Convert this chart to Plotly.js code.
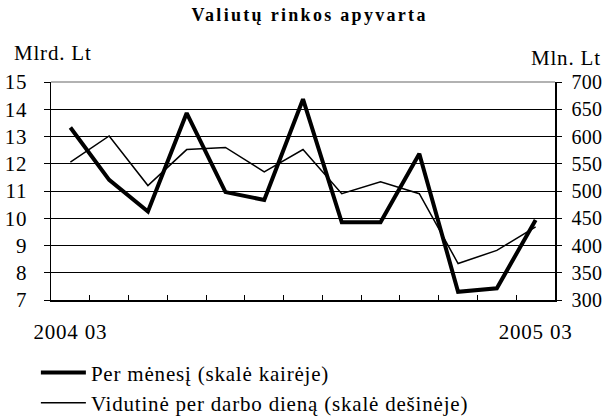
<!DOCTYPE html>
<html><head><meta charset="utf-8">
<script src="https://cdn.plot.ly/plotly-3.0.1.min.js"></script>
<style>body{margin:0;background:#fff}
svg text{letter-spacing:0.8px}
.y2tick text{letter-spacing:0.3px !important}
.gtitle{letter-spacing:2.3px !important}</style>
</head><body><div id="chart" style="width:607px;height:416px"></div>
<script>
const months = ["2004 03","2004 04","2004 05","2004 06","2004 07","2004 08","2004 09","2004 10","2004 11","2004 12","2005 01","2005 02","2005 03"];
const tickLabels = ["2004 03","","","","","","","","","","","","2005 03"];
const perMonth = [13.33, 11.41, 10.25, 13.86, 10.96, 10.67, 14.37, 9.85, 9.85, 12.37, 7.30, 7.43, 9.94];
const perDay = [553, 601, 510, 576, 580, 535, 576, 495, 517, 495, 367, 391, 434];
const seriesNames = ["Per mėnesį (skalė kairėje)", "Vidutinė per darbo dieną (skalė dešinėje)"];

const F = "'Liberation Serif', 'Times New Roman', serif";
const data = [
  {x: months, y: perMonth, name: seriesNames[0], type: "scatter", mode: "lines", line: {color: "#000", width: 4}, yaxis: "y"},
  {x: months, y: perDay, name: seriesNames[1], type: "scatter", mode: "lines", line: {color: "#000", width: 1.5}, yaxis: "y2"}
];
const layout = {
  width: 607, height: 416,
  margin: {l: 51, r: 52, t: 82, b: 116, autoexpand: false},
  paper_bgcolor: "#fff", plot_bgcolor: "#fff",
  font: {family: F, color: "#000", size: 21},
  title: {text: "<b>Valiutų rinkos apyvarta</b>", font: {family: F, size: 18, color: "#000"}, x: 0.51, xanchor: "center", y: 0.964, yanchor: "middle"},
  showlegend: true,
  legend: {x: -0.03, xanchor: "left", y: -0.24, yanchor: "top", font: {family: F, size: 21}, bgcolor: "rgba(0,0,0,0)", itemwidth: 45},
  xaxis: {type: "category", range: [-0.5, 12.5], tickmode: "array", tickvals: months, ticktext: tickLabels, tickson: "boundaries",
    ticks: "inside", ticklen: 5, tickcolor: "#000", showline: true, linecolor: "#000", linewidth: 1.5,
    showgrid: false, zeroline: false, tickfont: {size: 21}, ticklabelstandoff: 12, tickangle: 0},
  yaxis: {range: [7, 15], dtick: 1, tick0: 7, ticks: "outside", ticklen: 6, tickcolor: "#000",
    showline: true, linecolor: "#000", linewidth: 1.5, showgrid: true, gridcolor: "#000", gridwidth: 1,
    zeroline: false, tickfont: {size: 21}, ticklabelstandoff: 12},
  yaxis2: {range: [300, 700], dtick: 50, tick0: 300, overlaying: "y", side: "right", ticks: "outside", ticklen: 5, tickcolor: "#000",
    showline: true, linecolor: "#000", linewidth: 1.5, showgrid: false, zeroline: false, tickfont: {size: 20}, ticklabelstandoff: 6},
  shapes: [{type: "line", xref: "paper", yref: "paper", x0: 0, x1: 1, y0: 1, y1: 1, line: {color: "#999", width: 1.5}}],
  annotations: [
    {text: "Mlrd. Lt", xref: "paper", yref: "paper", x: -0.077, y: 1.135, xanchor: "left", yanchor: "middle", showarrow: false, font: {size: 21}},
    {text: "Mln. Lt", xref: "paper", yref: "paper", x: 1.095, y: 1.112, xanchor: "right", yanchor: "middle", showarrow: false, font: {size: 21}}
  ]
};
Plotly.newPlot("chart", data, layout, {displayModeBar: false, staticPlot: true});
</script></body></html>
